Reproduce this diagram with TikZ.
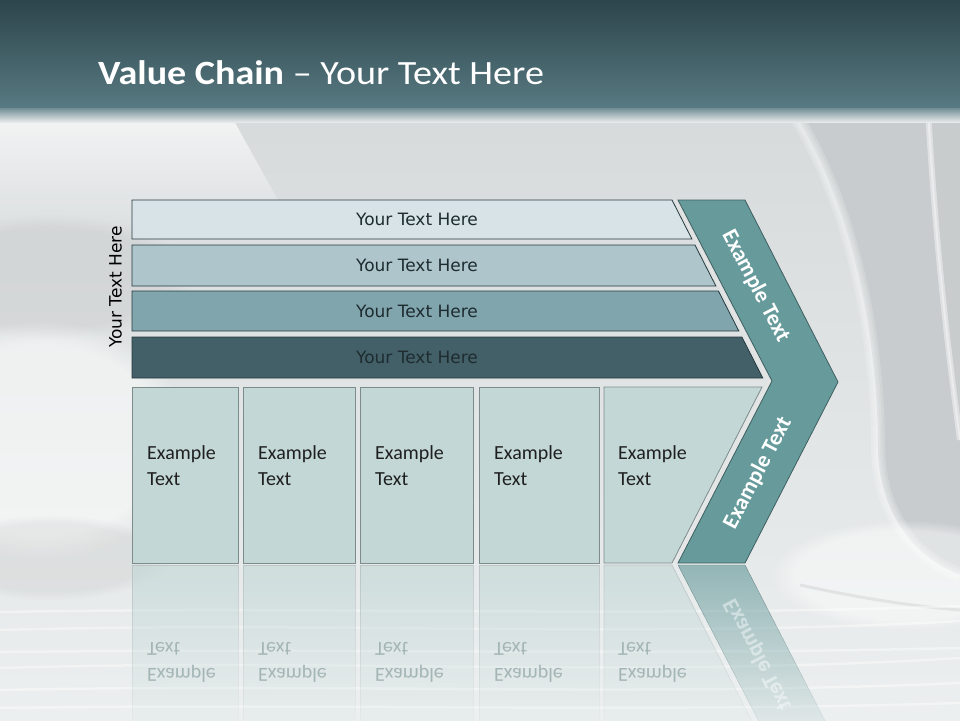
\documentclass[tikz,border=0pt]{standalone}
\usepackage{fontspec}
\setmainfont{Carlito}
\newfontfamily\barfont{DejaVu Sans}
\newfontfamily\titlefont[FakeStretch=1.12]{Carlito}
\usetikzlibrary{positioning,fadings}

\definecolor{bandtop}{HTML}{2D444B}
\definecolor{bandbot}{HTML}{587A82}
\definecolor{bgtop}{HTML}{D6DADB}
\definecolor{bgbot}{HTML}{ECEFEF}
\definecolor{pagegray}{HTML}{C8CCCE}
\definecolor{barA}{HTML}{D7E3E7}
\definecolor{barB}{HTML}{ADC5CB}
\definecolor{barC}{HTML}{80A5AD}
\definecolor{barD}{HTML}{435F68}
\definecolor{barline}{HTML}{263A3F}
\definecolor{bartext}{HTML}{1E2C30}
\definecolor{chev}{HTML}{669A9B}
\definecolor{chevline}{HTML}{3F5F61}
\definecolor{boxfill}{HTML}{C3D7D7}
\definecolor{boxline}{HTML}{7E8B8B}

\tikzfading[name=spiegel, top color=transparent!35, bottom color=transparent!100]
\tikzfading[name=nachunten, top color=transparent!0, middle color=transparent!10, bottom color=transparent!100]

\begin{document}
\begin{tikzpicture}[x=1pt, y=-1pt]

		\tikzset{%
			balken/.style     = {draw=barline, line width=0.8pt},
			balkentext/.style = {anchor=base, inner sep=0, text=bartext, font=\barfont\fontsize{17}{20}\selectfont},
			kasten/.style     = {draw=boxline, fill=boxfill, line width=0.8pt},
			kastentext/.style = {anchor=west, align=left, inner sep=0, text=black!88, font=\fontsize{20}{26}\selectfont},
			pfeiltext/.style  = {inner sep=0, text=white, font=\bfseries\fontsize{22.5}{26}\selectfont},
			spiegelkasten/.style = {fill=boxfill, draw=boxline!60, line width=0.8pt, path fading=spiegel},
			spiegeltext/.style   = {kastentext, yscale=-1, text=boxline!45!boxfill},
			wolke/.style      = {path fading=circle with fuzzy edge 20 percent}
		}

		\useasboundingbox (0,0) rectangle (960,720);

		% Hintergrund
		\shade[top color=bgtop, bottom color=bgbot] (0,100) rectangle (960,720);
		\fill[white, opacity=.75, path fading=nachunten] (0,110) -- (228,110) -- (300,240) -- (0,240) -- cycle;
		\fill[black!30, opacity=.2, wolke] (-90,215) rectangle (190,340);
		\fill[white, opacity=.5, wolke] (-110,320) rectangle (190,560);
		\fill[black!30, opacity=.18, wolke] (-70,515) rectangle (170,600);
		\fill[pagegray] (792,110) .. controls (850,200) and (878,330) .. (878,450) .. controls (880,520) and (920,560) .. (960,575) -- (960,110) -- cycle;
		\foreach \b in {14,9,4}
			\draw[white, opacity=.18, line width=\b pt] (792,110) .. controls (850,200) and (878,330) .. (878,450) .. controls (880,520) and (920,560) .. (960,575);
		\fill[black!20, opacity=.3] (928,110) .. controls (936,250) and (948,350) .. (960,440) -- (960,110) -- cycle;
		\foreach \b in {6,2}
			\draw[white, opacity=.4, line width=\b pt] (928,110) .. controls (936,250) and (948,350) .. (960,440);
		\fill[white, opacity=.45, wolke] (770,520) rectangle (1040,630);
		\draw[black!25, opacity=.3, line width=3pt] (800,585) .. controls (860,598) and (910,606) .. (960,610);
		\foreach \y/\d in {612/6, 630/9, 652/4, 668/10, 690/7, 708/5}
			\draw[white, opacity=.4, line width=2.5pt] (0,\y) .. controls (320,\y-\d) and (640,\y+\d) .. (960,\y-\d);

		% Titelleiste
		\shade[top color=bandtop, bottom color=bandbot] (0,0) rectangle (960,108);
		\shade[top color=bandbot!85!white, bottom color=bgtop!60!white] (0,108) rectangle (960,122);
		\node[anchor=base west, inner sep=0, text=white, font=\titlefont\fontsize{34}{40}\selectfont] (titel) at (98,84) {\textbf{Value Chain} – Your Text Here};

		% Balken oben
		\foreach \i/\farbe/\oben/\unten in {1/barA/200/239, 2/barB/245/286, 3/barC/291/331, 4/barD/337/378}{
			\pgfmathsetmacro{\ro}{672+0.51*(\oben-200)}
			\pgfmathsetmacro{\ru}{672+0.51*(\unten-200)}
			\pgfmathsetmacro{\mitte}{(\oben+\unten)/2+6}
			\draw[balken, fill=\farbe] (132,\oben) -- (\ro,\oben) -- (\ru,\unten) -- (132,\unten) -- cycle;
			\node[balkentext] (zeile\i) at (417,\mitte) {Your Text Here};
		}
		\node[rotate=90, inner sep=0, text=black, font=\barfont\fontsize{17}{20}\selectfont] (seite) at (115.5,287) {Your Text Here};

		% Kaesten unten
		\foreach \i/\links/\rechts in {1/132/238, 2/243/355, 3/360/473, 4/479/599}{
			\draw[kasten] (\links,387) rectangle (\rechts,563);
			\node[kastentext] (kasten\i) at (\links+15,465.5) {Example\\Text};
		}
		\draw[kasten] (604,387) -- (762,387) -- (672,563) -- (604,563) -- cycle;
		\node[kastentext] (kasten5) at (618,465.5) {Example\\Text};

		% Pfeil
		\draw[white!90!black, line width=1.5pt] (675,200) -- (769,381) -- (675,563);
		\draw[chevline, fill=chev, line width=0.8pt] (678,200) -- (745,200) -- (838,382) -- (745,563) -- (678,563) -- (772,381) -- cycle;
		\node[pfeiltext, rotate=-62.4] (pfeiloben) at (755.8,286) {Example Text};
		\node[pfeiltext, rotate=62.4] (pfeilunten) at (757.9,473) {Example Text};

		% Spiegelung
		\foreach \i/\links/\rechts in {1/132/238, 2/243/355, 3/360/473, 4/479/599}{
			\filldraw[spiegelkasten] (\links,565) rectangle (\rechts,741);
			\node[spiegeltext] (spiegel\i) at (\links+15,662.5) {Example\\Text};
		}
		\filldraw[spiegelkasten] (604,565) -- (672,565) -- (762,741) -- (604,741) -- cycle;
		\node[spiegeltext] (spiegel5) at (618,662.5) {Example\\Text};
		\filldraw[fill=chev, draw=chevline, path fading=spiegel] (678,565) -- (745,565) -- (838,746) -- (772,747) -- cycle;
		\node[pfeiltext, yscale=-1, rotate=62.4, opacity=.45] (pfeilspiegel) at (757.9,655) {Example Text};

\end{tikzpicture}
\end{document}
